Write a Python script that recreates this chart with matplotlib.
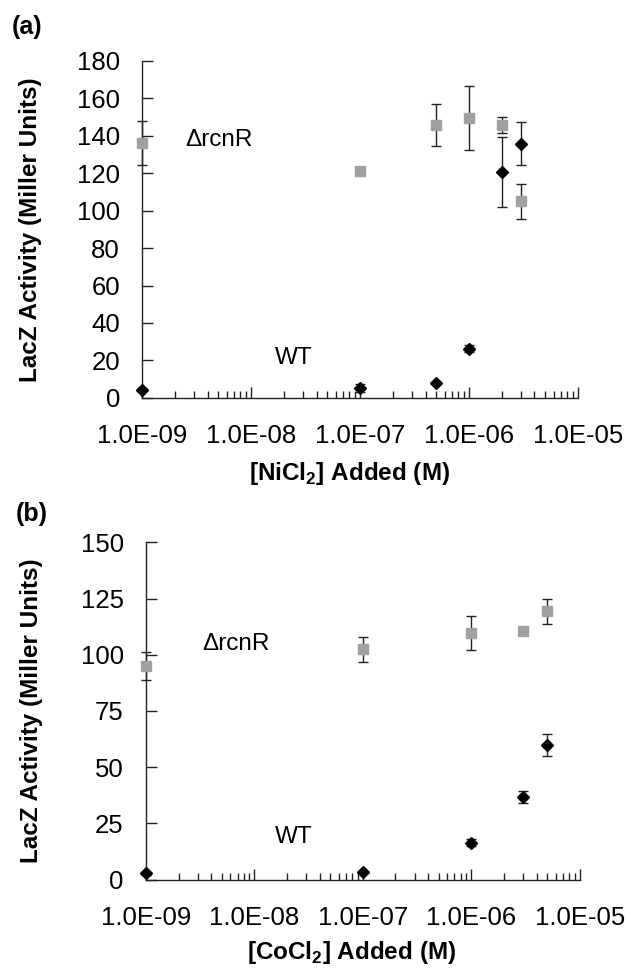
"""LacZ reporter activity vs. added metal chloride, WT and rcnR deletion strains."""

import matplotlib
matplotlib.use('Agg')
import matplotlib.pyplot as plt
import numpy as np
from matplotlib.ticker import FixedLocator, FuncFormatter, LogLocator, NullFormatter

plt.rcParams['font.family'] = ['Liberation Sans', 'DejaVu Sans']
plt.rcParams['mathtext.fontset'] = 'custom'
plt.rcParams['mathtext.rm'] = 'Liberation Sans'
plt.rcParams['mathtext.bf'] = 'Liberation Sans:bold'

# (a) NiCl2
ni_wt_conc = [1e-9, 1e-7, 5e-7, 1e-6, 2e-6, 3e-6]
ni_wt_act = [4.3, 5.2, 8.0, 26.3, 120.5, 135.9]
ni_wt_err = [0.8, 2.0, 0.6, 2.0, 18.7, 11.6]
ni_ko_conc = [1e-9, 1e-7, 5e-7, 1e-6, 2e-6, 3e-6]
ni_ko_act = [136.0, 121.4, 145.8, 149.4, 145.8, 105.0]
ni_ko_err = [11.8, 1.0, 11.2, 17.0, 4.3, 9.5]

# (b) CoCl2
co_wt_conc = [1e-9, 1e-7, 1e-6, 3e-6, 5e-6]
co_wt_act = [2.8, 3.3, 16.5, 36.9, 60.0]
co_wt_err = [0.5, 0.5, 1.5, 2.7, 4.9]
co_ko_conc = [1e-9, 1e-7, 1e-6, 3e-6, 5e-6]
co_ko_act = [94.9, 102.4, 109.6, 110.4, 119.3]
co_ko_err = [6.3, 5.5, 7.7, 1.0, 5.7]

decade_ticks = [1e-9, 1e-8, 1e-7, 1e-6, 1e-5]

fig = plt.figure(figsize=(6.26, 9.68), dpi=100)
ax_a = fig.add_axes([0.227, 0.589, 0.696, 0.348])
ax_b = fig.add_axes([0.233, 0.0912, 0.693, 0.3486])


def style_axes(ax, ymax, ystep, xlabel, ylabel, letter, letter_y,
               xlab_y, ylab_x, ko_pos, wt_pos):
    ax.set_xscale('log')
    ax.set_xlim(1e-9, 1e-5)
    ax.set_ylim(0, ymax)
    for side in ('top', 'right'):
        ax.spines[side].set_visible(False)
    for side in ('left', 'bottom'):
        ax.spines[side].set_color('#222222')
        ax.spines[side].set_linewidth(1.0)
    ax.xaxis.set_major_locator(FixedLocator(decade_ticks))
    ax.xaxis.set_minor_locator(LogLocator(base=10, subs=np.arange(2, 10)))
    ax.xaxis.set_minor_formatter(NullFormatter())
    ax.xaxis.set_major_formatter(FuncFormatter(lambda v, p: f'{v:.1E}'))
    ax.set_yticks(np.arange(0, ymax + 1, ystep))
    ax.tick_params(axis='x', which='major', direction='in', length=8, width=1.0,
                   color='#222222', labelsize=18.5, pad=19)
    ax.tick_params(axis='x', which='minor', direction='in', length=5, width=1.0,
                   color='#222222')
    ax.tick_params(axis='y', which='major', direction='in', length=8, width=1.0,
                   color='#222222', labelsize=18.5, pad=16)
    ax.set_xlabel(xlabel, fontsize=17.5, fontweight='bold')
    ax.xaxis.set_label_coords(0.475, xlab_y)
    ax.set_ylabel(ylabel, fontsize=17.5, fontweight='bold')
    ax.yaxis.set_label_coords(ylab_x, 0.5)
    ax.text(-0.30, letter_y, letter, transform=ax.transAxes, fontsize=18,
            fontweight='bold', va='center', ha='left')
    ax.text(ko_pos[0], ko_pos[1], '\u0394rcnR', transform=ax.transAxes,
            fontsize=17.5, va='center', ha='left')
    ax.text(wt_pos[0], wt_pos[1], 'WT', transform=ax.transAxes,
            fontsize=17.5, va='center', ha='left')


def plot_series(ax, ko_x, ko_y, ko_e, wt_x, wt_y, wt_e):
    ax.errorbar(ko_x, ko_y, yerr=ko_e, fmt='s', color='#a0a0a0', markersize=7,
                ecolor='#222222', elinewidth=1.0, capsize=3.3, capthick=1.0,
                clip_on=False, zorder=3)
    ax.errorbar(wt_x, wt_y, yerr=wt_e, fmt='D', color='black', markersize=6,
                ecolor='#222222', elinewidth=1.0, capsize=3.3, capthick=1.0,
                clip_on=False, zorder=4)


plot_series(ax_a, ni_ko_conc, ni_ko_act, ni_ko_err, ni_wt_conc, ni_wt_act, ni_wt_err)
style_axes(ax_a, 180, 20, r'[NiCl$_\mathbf{2}$] Added (M)',
           'LacZ Activity (Miller Units)', '(a)', 1.10, -0.185, -0.229,
           (0.099, 0.766), (0.305, 0.119))

plot_series(ax_b, co_ko_conc, co_ko_act, co_ko_err, co_wt_conc, co_wt_act, co_wt_err)
style_axes(ax_b, 150, 25, r'[CoCl$_\mathbf{2}$] Added (M)',
           'LacZ Activity (Miller Units)', '(b)', 1.085, -0.175, -0.237,
           (0.130, 0.699), (0.298, 0.126))

fig.savefig('out.png', dpi=100)
